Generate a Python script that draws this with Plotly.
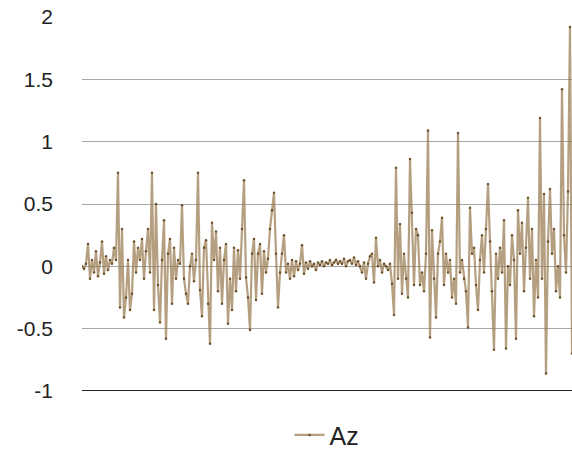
import plotly.graph_objects as go

# Az series values (one sample per ~2px)
az_values = [
    0.0, -0.02, 0.02, 0.18, -0.1, 0.05, -0.05, 0.12, -0.08, 0.03,
    0.2, -0.06, 0.08, -0.03, 0.05, 0.02, 0.15, 0.05, 0.75, -0.33,
    0.3, -0.41, -0.25, 0.05, -0.35, -0.22, 0.2, -0.05, 0.15, 0.05,
    0.22, -0.1, 0.12, 0.3, -0.05, 0.75, -0.35, 0.5, -0.15, -0.45,
    0.05, 0.37, -0.58, 0.1, 0.22, -0.3, 0.15, -0.1, 0.05, 0.02,
    0.49, -0.1, -0.22, -0.3, 0.0, 0.1, -0.12, 0.05, 0.75, -0.19,
    -0.4, 0.15, 0.21, -0.3, -0.62, 0.35, 0.05, 0.28, -0.2, 0.15,
    -0.3, 0.05, 0.18, -0.46, -0.1, -0.35, 0.15, -0.2, 0.13, -0.1,
    0.3, 0.69, -0.09, -0.25, -0.51, 0.1, 0.22, -0.27, 0.1, 0.18,
    -0.22, 0.12, -0.05, 0.06, 0.3, 0.45, 0.59, 0.1, -0.33, -0.05,
    0.1, 0.25, -0.05, 0.02, -0.1, 0.05, -0.08, 0.04, -0.03, 0.02,
    0.17, -0.06, 0.03, -0.02, 0.04, 0.0, 0.02, -0.03, 0.03, 0.01,
    0.04, 0.0, 0.03, 0.02, 0.05, 0.01, 0.03, 0.05, 0.02, 0.04,
    0.02, 0.06, 0.0, 0.04, 0.05, 0.02, 0.07, 0.01, 0.04, 0.0,
    -0.05, 0.03, -0.1, 0.02, 0.08, 0.1, -0.13, 0.23, 0.0, 0.05,
    -0.05, 0.02, 0.0, -0.03, 0.02, -0.14, -0.39, 0.79, -0.1, 0.34,
    -0.22, 0.1, -0.1, -0.25, 0.86, 0.43, -0.15, 0.3, 0.25, -0.15,
    -0.05, -0.2, 0.1, 1.09, -0.57, 0.29, -0.1, -0.41, 0.1, 0.2,
    0.39, -0.15, 0.1, -0.05, 0.05, -0.25, -0.1, -0.3, 1.07, -0.05,
    0.05, -0.1, -0.2, -0.49, 0.47, 0.1, 0.15, -0.15, -0.35, 0.05,
    0.25, -0.05, 0.3, 0.66, 0.2, -0.2, -0.67, 0.1, -0.1, 0.15,
    -0.05, 0.37, -0.66, 0.0, -0.15, 0.25, 0.05, -0.58, 0.45, 0.1,
    0.35, -0.2, 0.15, 0.55, -0.1, 0.3, -0.4, 0.05, -0.25, 1.19,
    -0.1, 0.58, -0.86, 0.2, 0.62, 0.1, 0.3, -0.2, 0.0, -0.25,
    1.42, 0.25, -0.05, 0.6, 1.92, -0.7,
]
x_index = list(range(len(az_values)))

y_tick_vals = [-1, -0.5, 0, 0.5, 1, 1.5, 2]
y_tick_text = ["-1", "-0.5", "0", "0.5", "1", "1.5", "2"]

fig = go.Figure()
fig.add_trace(go.Scatter(
    x=x_index, y=az_values, name="Az", mode="lines+markers",
    line=dict(color="rgba(150,118,75,0.7)", width=2.2),
    marker=dict(color="rgba(100,70,30,0.9)", size=2.5),
))
# legend-only appearance handled by the same trace

fig.update_layout(
    width=572, height=449,
    margin=dict(l=82, r=0, t=17, b=58, autoexpand=False),
    paper_bgcolor="white", plot_bgcolor="white",
    font=dict(family="Liberation Sans, Arial, sans-serif", color="#222"),
    showlegend=True,
    legend=dict(orientation="h", x=0.5, xanchor="center", y=-0.118, yanchor="middle",
                font=dict(size=25, color="#222"), itemwidth=30),
    xaxis=dict(range=[0, len(az_values) - 1], showgrid=False, zeroline=False,
               showticklabels=False, ticks="", showline=False),
    yaxis=dict(range=[-1, 2], tickvals=y_tick_vals, ticktext=y_tick_text,
               showgrid=True, gridcolor="#a8a8a8", gridwidth=1,
               zeroline=False, showline=False, ticks="",
               tickfont=dict(size=21, color="#222"), ticklabelstandoff=28),
    shapes=[dict(type="line", xref="paper", yref="y", x0=0, x1=1, y0=-1, y1=-1,
                 line=dict(color="#222", width=2))],
)

fig.write_html("out.html")
